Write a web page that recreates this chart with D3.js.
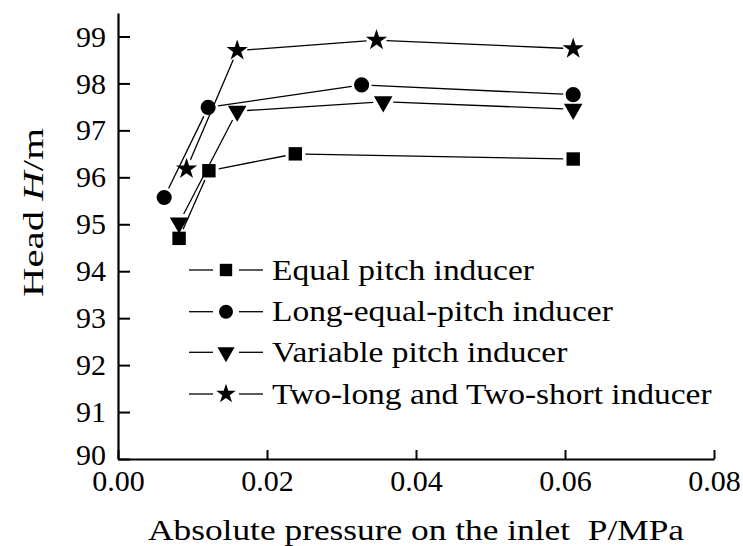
<!DOCTYPE html>
<html><head><meta charset="utf-8">
<script src="https://cdn.jsdelivr.net/npm/d3@7"></script>
<style>body{margin:0;background:#fff}svg{display:block}</style>
</head><body>
<svg id="c" width="743" height="546"></svg>
<script>
const seriesNames = ["Equal pitch inducer","Long-equal-pitch inducer","Variable pitch inducer","Two-long and Two-short inducer"];
const seriesSymbols = ["square","circle","triangle","star"];
const equalX = [0.0082,0.0122,0.0238,0.0611];
const equalY = [94.70,96.14,96.50,96.39];
const longX = [0.0062,0.0121,0.0327,0.0611];
const longY = [95.57,97.49,97.97,97.76];
const varX = [0.0082,0.0160,0.0356,0.0611];
const varY = [95.03,97.41,97.61,97.45];
const twoX = [0.0092,0.0160,0.0347,0.0611];
const twoY = [96.18,98.70,98.92,98.74];
const xTicks = [0,0.02,0.04,0.06,0.08];
const yTicks = [90,91,92,93,94,95,96,97,98,99];

const series = [[equalX,equalY],[longX,longY],[varX,varY],[twoX,twoY]];
const svg = d3.select("#c");
const font = "'Liberation Serif', serif";
const x = d3.scaleLinear().domain([0,0.08]).range([118,714]);
const y = d3.scaleLinear().domain([90,99.5]).range([459,13]);

// axes
const ya = svg.append("g").attr("transform","translate(118,0)")
  .call(d3.axisLeft(y).tickValues(yTicks).tickSizeInner(-12).tickSizeOuter(0).tickPadding(12).tickFormat(d3.format("d")));
const xa = svg.append("g").attr("transform","translate(0,459)")
  .call(d3.axisBottom(x).tickValues(xTicks).tickSizeInner(-9).tickSizeOuter(0).tickPadding(11).tickFormat(d3.format(".2f")));
[ya,xa].forEach(a=>{
  a.select(".domain").attr("stroke","#000").attr("stroke-width",2.2);
  a.selectAll(".tick line").attr("stroke","#000").attr("stroke-width",2);
  a.selectAll("text").attr("font-family",font).attr("font-size",30).attr("fill","#000");
});
ya.selectAll(".tick").filter(d=>d===90).select("text").attr("dy","0.19em");

// axis titles
svg.append("text").attr("x",148).attr("y",540)
  .attr("font-family",font).attr("font-size",30).attr("fill","#000")
  .attr("textLength",536).attr("lengthAdjust","spacingAndGlyphs")
  .text("Absolute pressure on the inlet\u00a0\u00a0P/MPa");
const yt = svg.append("text").attr("transform","translate(43,297) rotate(-90)")
  .attr("font-family",font).attr("font-size",30).attr("fill","#000")
  .attr("textLength",169).attr("lengthAdjust","spacingAndGlyphs");
yt.append("tspan").text("Head ");
yt.append("tspan").attr("font-style","italic").text("H");
yt.append("tspan").text("/m");

const symMap = {square:d3.symbolSquare,circle:d3.symbolCircle,triangle:d3.symbolTriangle,star:d3.symbolStar};
const symSize = {square:180,circle:180,triangle:150,star:140};
function marker(g,type,cx,cy,scale){
  const p = g.append("path").attr("d",d3.symbol(symMap[type],symSize[type]*scale)())
    .attr("fill","#000");
  if(type==="triangle") p.attr("transform",`translate(${cx},${cy}) rotate(180)`);
  else p.attr("transform",`translate(${cx},${cy})`);
}

const gap = 10;
series.forEach((s,i)=>{
  const g = svg.append("g");
  const pts = s[0].map((v,j)=>[x(v),y(s[1][j])]);
  for(let j=0;j<pts.length-1;j++){
    const [x1,y1]=pts[j],[x2,y2]=pts[j+1];
    const dx=x2-x1,dy=y2-y1,L=Math.hypot(dx,dy);
    const ux=dx/L,uy=dy/L;
    g.append("line").attr("x1",x1+ux*gap).attr("y1",y1+uy*gap)
      .attr("x2",x2-ux*gap).attr("y2",y2-uy*gap)
      .attr("stroke","#000").attr("stroke-width",1.3);
  }
  pts.forEach(p=>marker(g,seriesSymbols[i],p[0],p[1],1));
});

// legend
const legY = [270,311.7,352.3,394];
seriesNames.forEach((n,i)=>{
  const g = svg.append("g");
  const yy = legY[i];
  g.append("line").attr("x1",189).attr("x2",213).attr("y1",yy).attr("y2",yy).attr("stroke","#000").attr("stroke-width",1.3);
  g.append("line").attr("x1",239).attr("x2",263).attr("y1",yy).attr("y2",yy).attr("stroke","#000").attr("stroke-width",1.3);
  marker(g,seriesSymbols[i],226,yy,0.85);
  g.append("text").attr("transform",`translate(272,${yy+9.5}) scale(1.115,1)`)
    .attr("font-family",font).attr("font-size",30).attr("fill","#000").text(n);
});
</script>
</body></html>
